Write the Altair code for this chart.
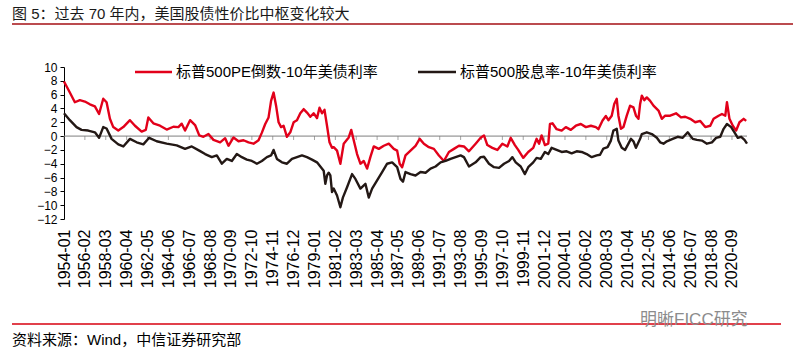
import altair as alt
import pandas as pd

TITLE = "图 5：过去 70 年内，美国股债性价比中枢变化较大"
SOURCE = "资料来源：Wind，中信证券研究部"
WATERMARK = "明晰FICC研究"
S_RED = "标普500PE倒数-10年美债利率"
S_BLACK = "标普500股息率-10年美债利率"

red_dates = ["1954-01","1954-08","1955-02","1955-08","1956-02","1956-08","1957-02","1957-07","1957-12","1958-04",
             "1958-08","1958-12","1959-06","1959-12","1960-08","1961-02","1961-10","1962-03","1962-06","1962-12",
             "1963-08","1964-04","1964-12","1965-06","1965-10","1966-02","1966-08","1967-02","1967-07","1967-12",
             "1968-06","1968-12","1969-08","1970-02","1970-06","1970-12","1971-06","1971-12","1972-06","1972-12",
             "1973-06","1973-10","1974-02","1974-06","1974-09","1974-12","1975-03","1975-06","1975-09","1975-12",
             "1976-04","1976-08","1976-12","1977-04","1977-08","1977-12","1978-04","1978-08","1978-12","1979-04",
             "1979-07","1979-10","1980-01","1980-04","1980-07","1980-10","1980-12","1981-04","1981-08","1981-12",
             "1982-06","1982-09","1982-12","1983-04","1983-08","1983-12","1984-04","1984-08","1984-12","1985-06",
             "1985-12","1986-06","1986-12","1987-04","1987-07","1987-10","1988-02","1988-08","1989-02","1989-07",
             "1989-12","1990-06","1990-12","1991-06","1991-12","1992-06","1992-12","1993-06","1993-12","1994-06",
             "1995-02","1995-08","1995-12","1996-04","1996-10","1997-04","1997-10","1998-04","1998-08","1999-01",
             "1999-05","1999-11","2000-05","2000-11","2001-03","2001-06","2001-09","2002-01","2002-05","2002-07",
             "2002-10","2003-03","2003-09","2004-02","2004-08","2005-02","2005-08","2006-02","2006-08","2007-02",
             "2007-05","2007-10","2008-02","2008-05","2008-09","2008-12","2009-03","2009-05","2009-08","2009-11",
             "2010-03","2010-07","2010-11","2011-02","2011-05","2011-07","2011-09","2011-12","2012-03","2012-07",
             "2012-11","2013-05","2013-09","2014-01","2014-07","2015-02","2015-08","2016-01","2016-07","2017-01",
             "2017-07","2018-01","2018-07","2018-11","2019-05","2019-09","2020-01","2020-03","2020-06","2020-10",
             "2021-02","2021-06","2021-11","2022-02"]
red_vals = [7.9,6.3,4.9,5.2,5.0,4.6,4.3,3.2,5.4,4.9,
            2.5,1.3,0.8,1.3,2.3,1.5,0.65,0.9,2.7,1.85,
            1.5,0.95,1.35,1.3,1.8,0.8,2.3,1.6,0.1,-0.1,
            0.3,-0.55,-0.9,-0.3,-1.4,-0.2,-0.75,-0.6,-0.9,-1.1,
            -0.6,0.5,1.75,2.7,5.1,6.3,4.4,2.0,1.3,1.5,
            -0.1,0.55,2.0,2.3,3.3,3.9,3.4,2.8,3.3,2.6,
            4.1,3.3,3.8,1.5,-0.9,-1.7,-1.6,-2.1,-4.0,-1.1,
            -0.2,0.9,-0.6,-2.6,-4.0,-3.6,-4.7,-3.0,-1.5,-1.85,
            -1.4,-1.1,-1.85,-2.1,-4.0,-4.5,-2.8,-2.1,-1.4,-0.4,
            -1.1,-1.6,-1.85,-2.8,-3.6,-2.3,-1.85,-1.4,-1.5,-2.2,
            -1.1,-0.25,0.1,-1.3,-1.7,-2.0,-1.1,-1.5,-0.25,-1.3,
            -2.0,-3.15,-2.3,-1.7,-0.4,-1.1,0.1,-1.3,-1.1,1.75,
            1.85,1.0,0.8,1.3,0.9,1.5,1.75,1.3,1.5,1.3,
            1.0,2.25,2.9,2.3,2.95,4.65,5.4,2.95,1.05,1.3,
            2.95,4.4,4.15,2.95,2.5,4.65,5.85,5.2,5.6,5.1,
            4.4,3.7,2.5,2.95,2.95,3.3,2.7,2.8,2.5,2.0,
            2.2,1.3,1.5,2.5,2.95,3.2,2.95,4.9,2.5,1.5,
            0.8,2.0,2.5,2.2]

black_dates = ["1954-01","1954-08","1955-04","1955-10","1956-06","1957-02","1957-07","1957-12","1958-04","1958-10",
               "1959-06","1959-12","1960-08","1961-04","1961-12","1962-07","1963-04","1964-04","1965-04","1966-02",
               "1966-10","1967-07","1968-02","1968-10","1969-04","1969-10","1970-04","1970-10","1971-04","1971-10",
               "1972-04","1972-10","1973-04","1973-10","1974-04","1974-09","1974-12","1975-04","1975-10","1976-04",
               "1976-10","1977-04","1977-10","1978-04","1978-10","1979-04","1979-08","1979-12","1980-02","1980-04",
               "1980-06","1980-08","1980-10","1980-12","1981-04","1981-08","1981-11","1982-04","1982-10","1983-02",
               "1983-08","1984-02","1984-06","1984-10","1985-04","1985-10","1986-04","1986-10","1987-04","1987-08",
               "1987-11","1988-02","1988-08","1989-02","1989-08","1990-02","1990-08","1991-02","1991-08","1992-02",
               "1992-08","1993-02","1993-08","1993-12","1994-06","1995-02","1995-08","1995-12","1996-06","1996-12",
               "1997-06","1997-12","1998-06","1998-10","1999-02","1999-08","2000-01","2000-05","2000-11","2001-03",
               "2001-08","2002-01","2002-05","2002-09","2003-03","2003-09","2004-03","2004-09","2005-03","2005-09",
               "2006-03","2006-09","2007-03","2007-07","2007-11","2008-04","2008-08","2008-11","2009-03","2009-05",
               "2009-09","2010-01","2010-05","2010-08","2010-11","2011-02","2011-07","2011-09","2012-03","2012-09",
               "2013-03","2013-07","2013-11","2014-03","2014-10","2015-04","2015-10","2016-04","2016-10","2017-03",
               "2017-09","2018-03","2018-09","2019-02","2019-07","2019-11","2020-03","2020-08","2020-12","2021-04",
               "2021-08","2021-12","2022-03"]
black_vals = [3.3,2.3,1.3,0.9,0.8,0.55,-0.25,1.3,1.1,-0.4,
              -1.2,-1.5,-0.4,-0.9,-1.2,-0.25,-0.75,-1.1,-1.35,-1.85,
              -1.5,-2.1,-2.6,-3.05,-2.8,-4.0,-3.3,-3.6,-2.6,-3.05,
              -3.4,-3.6,-4.0,-3.6,-3.05,-2.8,-2.0,-3.3,-3.8,-4.0,
              -3.3,-3.05,-2.8,-3.05,-3.4,-3.8,-4.4,-5.0,-6.9,-5.7,
              -5.3,-5.7,-8.1,-7.6,-8.6,-10.3,-8.9,-7.4,-5.5,-6.2,
              -7.6,-6.9,-8.9,-7.6,-6.4,-5.2,-4.0,-3.8,-4.5,-6.2,
              -6.6,-5.2,-5.5,-5.7,-5.2,-5.3,-4.7,-4.4,-3.8,-3.6,
              -3.3,-3.05,-2.8,-3.05,-4.4,-3.8,-3.05,-3.0,-4.0,-4.5,
              -4.6,-4.0,-3.6,-3.05,-3.8,-4.4,-5.5,-4.5,-3.8,-3.15,
              -3.3,-2.3,-2.6,-1.7,-2.0,-2.3,-2.2,-2.5,-2.2,-2.3,
              -2.6,-3.05,-2.8,-2.7,-1.8,-1.6,-0.65,0.8,1.05,-0.65,
              -1.7,-2.0,-1.1,-0.4,-0.75,-1.7,-0.4,0.3,0.55,0.3,
              -0.25,-0.9,-1.1,-0.75,-0.4,-0.1,-0.25,0.55,-0.4,-0.55,
              -0.65,-1.1,-0.9,-0.25,-0.1,1.05,1.75,1.3,0.55,-0.25,
              -0.1,-0.55,-1.1]

tick_labels = ["1954-01","1956-02","1958-03","1960-04","1962-05","1964-06","1966-07","1968-08","1970-09",
               "1972-10","1974-11","1976-12","1979-01","1981-02","1983-03","1985-04","1987-05","1989-06",
               "1991-07","1993-08","1995-09","1997-10","1999-11","2001-12","2004-01","2006-02","2008-03",
               "2010-04","2012-05","2014-06","2016-07","2018-08","2020-09"]
y_ticks = [-12, -10, -8, -6, -4, -2, 0, 2, 4, 6, 8, 10]


def month_index(d):
    y, m = d.split("-")
    return (int(y) - 1954) * 12 + int(m) - 1


df = pd.concat([
    pd.DataFrame({"m": [month_index(d) for d in red_dates], "v": red_vals, "s": S_RED, "o": 1}),
    pd.DataFrame({"m": [month_index(d) for d in black_dates], "v": black_vals, "s": S_BLACK, "o": 2}),
])
tick_m = [month_index(d) for d in tick_labels]
ticks_df = pd.DataFrame({"m": tick_m, "v": 0})

RED = "#E2001A"
BLACK = "#231815"
FONT = "Liberation Sans, Noto Sans CJK SC"
W, H = 683, 152
XMAX = month_index("2022-03")

xscale = alt.Scale(domain=[0, XMAX], nice=False, zero=False)
yscale = alt.Scale(domain=[-12, 10], nice=False)

label_expr = ("(1954 + floor(datum.value / 12)) + '-' + ((datum.value % 12) < 9 ? '0' : '') + "
              "((datum.value % 12) + 1)")

xaxis = alt.Axis(values=tick_m, labelExpr=label_expr, labelAngle=-90, labelAlign="right",
                 labelBaseline="middle", domain=False, ticks=False, grid=False,
                 labelPadding=10, labelOverlap=False, labelFlush=False, title=None,
                 labelFontSize=16, labelFont="Liberation Sans", labelColor="#000")
yaxis = alt.Axis(values=y_ticks, grid=False, domainColor="#000", tickColor="#000",
                 tickSize=4, labelFontSize=12, labelFont="Liberation Sans",
                 labelColor="#000", labelPadding=3, labelOverlap=False,
                 labelFlush=False, title=None)

lines = alt.Chart(df).mark_line(strokeWidth=2.4, strokeJoin="round").encode(
    x=alt.X("m:Q", scale=xscale, axis=xaxis),
    y=alt.Y("v:Q", scale=yscale, axis=yaxis),
    color=alt.Color("s:N", scale=alt.Scale(domain=[S_RED, S_BLACK], range=[RED, BLACK]), legend=None),
    order=alt.Order("o:Q"),
    detail="s:N",
)

zero_rule = alt.Chart(pd.DataFrame({"v": [0]})).mark_rule(color="#7f7f7f", strokeWidth=1).encode(
    y=alt.Y("v:Q", scale=yscale, axis=yaxis), x=alt.value(0), x2=alt.value(W))

zero_ticks = alt.Chart(ticks_df).mark_tick(orient="vertical", size=4, yOffset=2, thickness=1,
                                           color="#7f7f7f").encode(
    x=alt.X("m:Q", scale=xscale, axis=xaxis), y=alt.Y("v:Q", scale=yscale, axis=yaxis))

one = pd.DataFrame({"a": [0]})

def txt(text, x, y, size, color="#000", align="left", font=FONT):
    return alt.Chart(one).mark_text(text=text, align=align, baseline="middle", fontSize=size,
                                    font=font, color=color).encode(x=alt.value(x), y=alt.value(y))

def hline(x1, x2, y, color, width):
    return alt.Chart(one).mark_rule(color=color, strokeWidth=width).encode(
        x=alt.value(x1), x2=alt.value(x2), y=alt.value(y))

OX, OY = 64, 67  # plot origin in page pixels

legend = alt.layer(
    hline(135 - OX, 172 - OX, 72 - OY, RED, 2.5),
    txt(S_RED, 176 - OX, 72 - OY, 15),
    hline(418 - OX, 456 - OX, 72 - OY, BLACK, 2.5),
    txt(S_BLACK, 460 - OX, 72 - OY, 15),
)

decor = alt.layer(
    txt(TITLE, 12 - OX, 14 - OY, 15, color="#1a1a1a"),
    hline(12 - OX, 793 - OX, 24 - OY, "#A50F15", 1.5),
    hline(12 - OX, 781 - OX, 324 - OY, "#D7000F", 1.5),
    txt(SOURCE, 12 - OX, 340 - OY, 15, color="#000"),
    txt(WATERMARK, 640 - OX, 320 - OY, 17, color="#8c8c8c"),
)

chart = alt.layer(zero_rule, zero_ticks, lines, legend, decor).properties(
    width=W, height=H,
    autosize=alt.AutoSizeParams(type="none"),
    padding={"left": OX, "top": OY, "right": 793 - OX - W, "bottom": 354 - OY - H},
    background="white",
).configure_view(stroke=None).configure_axis(labelOverlap=False)

chart.save("out.html", embed_options={"renderer": "svg", "actions": False})
